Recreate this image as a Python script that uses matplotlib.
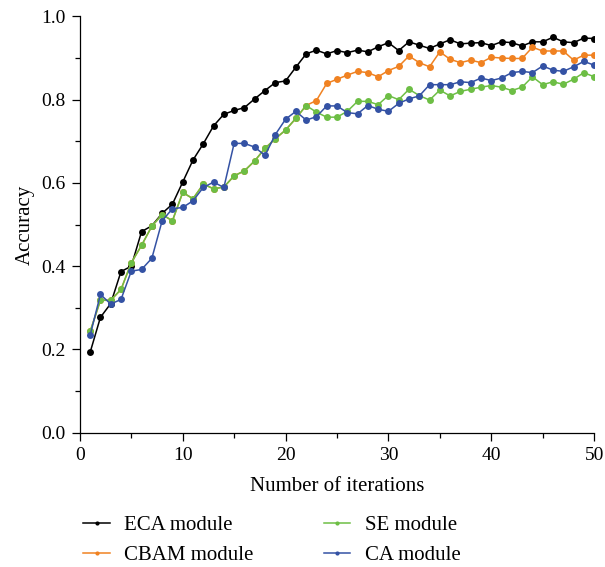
import matplotlib
matplotlib.use("Agg")
import matplotlib.pyplot as plt
from matplotlib.ticker import MultipleLocator

iterations = list(range(1, 51))

eca = [0.193, 0.277, 0.31, 0.387, 0.40, 0.483, 0.497, 0.527, 0.549, 0.602,
       0.655, 0.694, 0.737, 0.765, 0.774, 0.781, 0.802, 0.822, 0.841, 0.845,
       0.878, 0.910, 0.919, 0.910, 0.918, 0.913, 0.919, 0.915, 0.927, 0.937,
       0.918, 0.939, 0.931, 0.923, 0.934, 0.944, 0.934, 0.936, 0.937, 0.930,
       0.939, 0.937, 0.929, 0.939, 0.939, 0.950, 0.939, 0.937, 0.948, 0.947]

se = [0.243, 0.318, 0.318, 0.344, 0.408, 0.450, 0.496, 0.524, 0.509, 0.577,
      0.562, 0.597, 0.586, 0.590, 0.617, 0.629, 0.653, 0.683, 0.706, 0.727,
      0.755, 0.786, 0.770, 0.758, 0.758, 0.772, 0.796, 0.796, 0.788, 0.810,
      0.800, 0.825, 0.810, 0.799, 0.823, 0.809, 0.820, 0.825, 0.830, 0.834,
      0.830, 0.822, 0.830, 0.855, 0.836, 0.843, 0.837, 0.849, 0.865, 0.855]

cbam = se[:22] + [0.798, 0.839, 0.849, 0.859, 0.868, 0.865, 0.855, 0.870,
                  0.880, 0.905, 0.889, 0.879, 0.915, 0.897, 0.889, 0.895,
                  0.889, 0.902, 0.900, 0.899, 0.899, 0.926, 0.917, 0.917,
                  0.917, 0.895, 0.907, 0.907]

ca = [0.234, 0.332, 0.309, 0.320, 0.388, 0.392, 0.419, 0.509, 0.538, 0.541,
      0.557, 0.589, 0.602, 0.589, 0.695, 0.695, 0.686, 0.666, 0.716, 0.753,
      0.772, 0.751, 0.759, 0.785, 0.785, 0.769, 0.766, 0.786, 0.777, 0.772,
      0.791, 0.802, 0.809, 0.836, 0.836, 0.836, 0.843, 0.841, 0.852, 0.846,
      0.852, 0.865, 0.868, 0.865, 0.881, 0.871, 0.868, 0.879, 0.892, 0.883]

series = [
    ("ECA module", eca, "#000000"),
    ("CBAM module", cbam, "#F08222"),
    ("SE module", se, "#6DBE45"),
    ("CA module", ca, "#3452A4"),
]

plt.rcParams['font.family'] = ['Liberation Serif', 'DejaVu Serif']

fig = plt.figure(figsize=(6.05, 5.67), dpi=100)
ax = fig.add_axes([0.132, 0.237, 0.85, 0.734])

for name, vals, col in series:
    ax.plot(iterations, vals, color=col, lw=1.1, marker='o', ms=5,
            markeredgewidth=0, label=name)

ax.set_xlim(0, 50)
ax.set_ylim(0, 1.0)
ax.xaxis.set_major_locator(MultipleLocator(10))
ax.xaxis.set_minor_locator(MultipleLocator(5))
ax.yaxis.set_major_locator(MultipleLocator(0.2))
ax.yaxis.set_minor_locator(MultipleLocator(0.1))
ax.yaxis.set_major_formatter(plt.FuncFormatter(lambda v, p: f"{v:.1f}"))
ax.tick_params(which='major', direction='out', length=6, width=0.9, labelsize=14, pad=4)
ax.tick_params(which='minor', direction='out', length=3.5, width=0.9)
for s in ['top', 'right']:
    ax.spines[s].set_visible(False)
for s in ['left', 'bottom']:
    ax.spines[s].set_linewidth(0.9)

ax.set_xlabel("Number of iterations", fontsize=15, labelpad=10)
ax.set_ylabel("Accuracy", fontsize=15, labelpad=5)

handles, labels = ax.get_legend_handles_labels()
fig.legend(handles, labels, loc='upper left', bbox_to_anchor=(0.138, 0.091),
           ncol=2, frameon=False, fontsize=15, handlelength=1.25,
           markerscale=0.6, columnspacing=3.4, labelspacing=0.5,
           handletextpad=0.7, borderaxespad=0, borderpad=0)

fig.savefig("out.png", dpi=100)
